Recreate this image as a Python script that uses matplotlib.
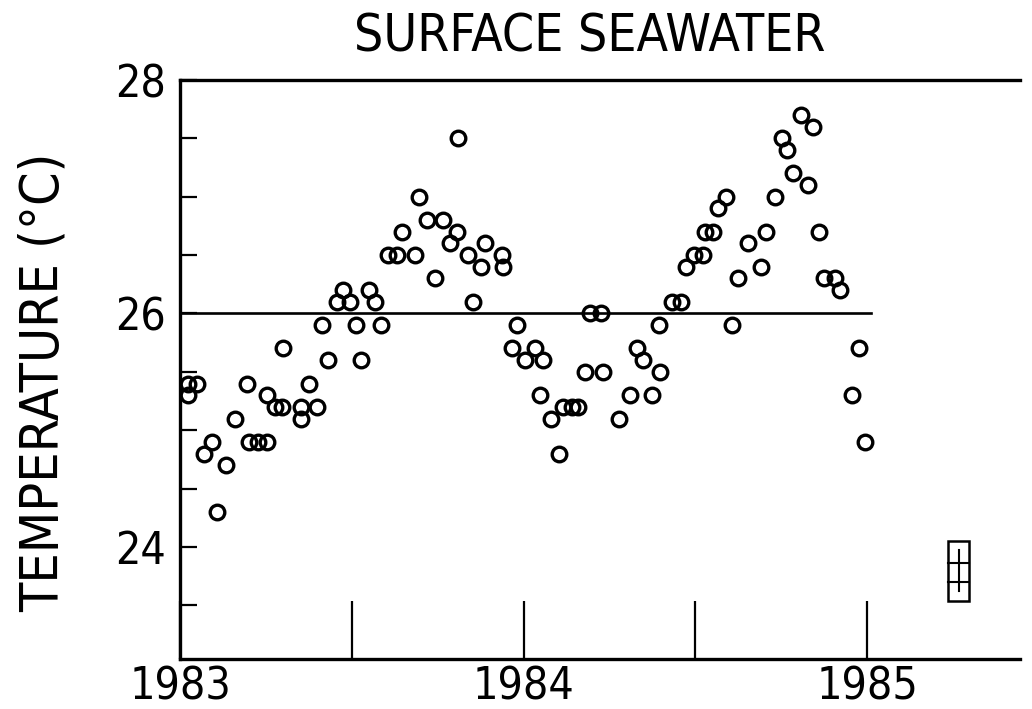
import matplotlib
matplotlib.use("Agg")
import matplotlib.pyplot as plt
from matplotlib.patches import Rectangle

# ---- data (decimal year, temperature in deg C) ----
years = [
    1983.023, 1983.023, 1983.050, 1983.070, 1983.093, 1983.108, 1983.134, 1983.160,
    1983.195, 1983.201, 1983.227, 1983.253, 1983.253, 1983.277, 1983.297, 1983.300,
    1983.352, 1983.352, 1983.376, 1983.399, 1983.413, 1983.431, 1983.457, 1983.475,
    1983.495, 1983.512, 1983.527, 1983.550, 1983.568, 1983.585, 1983.606, 1983.632,
    1983.646, 1983.684, 1983.696, 1983.719, 1983.742, 1983.766, 1983.786, 1983.806,
    1983.809, 1983.838, 1983.853, 1983.876, 1983.888, 1983.937, 1983.940, 1983.967,
    1983.981, 1984.004, 1984.034, 1984.048, 1984.057, 1984.080, 1984.103, 1984.115,
    1984.141, 1984.159, 1984.179, 1984.194, 1984.226, 1984.231, 1984.278, 1984.310,
    1984.330, 1984.348, 1984.374, 1984.395, 1984.397, 1984.432, 1984.459, 1984.473,
    1984.496, 1984.523, 1984.528, 1984.552, 1984.566, 1984.590, 1984.607, 1984.625,
    1984.654, 1984.691, 1984.706, 1984.732, 1984.753, 1984.767, 1984.785, 1984.808,
    1984.828, 1984.843, 1984.860, 1984.875, 1984.907, 1984.921, 1984.956, 1984.977,
    1984.994,
]
temps = [
    25.4, 25.3, 25.4, 24.8, 24.9, 24.3, 24.7, 25.1,
    25.4, 24.9, 24.9, 24.9, 25.3, 25.2, 25.2, 25.7,
    25.2, 25.1, 25.4, 25.2, 25.9, 25.6, 26.1, 26.2,
    26.1, 25.9, 25.6, 26.2, 26.1, 25.9, 26.5, 26.5,
    26.7, 26.5, 27.0, 26.8, 26.3, 26.8, 26.6, 26.7,
    27.5, 26.5, 26.1, 26.4, 26.6, 26.5, 26.4, 25.7,
    25.9, 25.6, 25.7, 25.3, 25.6, 25.1, 24.8, 25.2,
    25.2, 25.2, 25.5, 26.0, 26.0, 25.5, 25.1, 25.3,
    25.7, 25.6, 25.3, 25.9, 25.5, 26.1, 26.1, 26.4,
    26.5, 26.5, 26.7, 26.7, 26.9, 27.0, 25.9, 26.3,
    26.6, 26.4, 26.7, 27.0, 27.5, 27.4, 27.2, 27.7,
    27.1, 27.6, 26.7, 26.3, 26.3, 26.2, 25.3, 25.7,
    24.9,
]
mean_temp = 26.0
mean_span = [1983.0, 1985.01]

x_major = [1983, 1984, 1985]
x_labels = ["1983", "1984", "1985"]
x_minor = [1983.5, 1984.5]
y_major = [24, 26, 28]
y_labels = ["24", "26", "28"]
y_minor = [23.5, 24.5, 25, 25.5, 26.5, 27, 27.5]

title = "SURFACE SEAWATER"
ylabel = "TEMPERATURE (°C)"

plt.rcParams["font.family"] = ["DejaVu Sans"]
plt.rcParams["font.stretch"] = "condensed"

fig = plt.figure(figsize=(10.32, 7.09), dpi=100)
W, H = 1032, 709
L, R, T, B = 180, 1020, 80, 659
ax = fig.add_axes([L / W, 1 - B / H, (R - L) / W, (B - T) / H])

ax.plot(mean_span, [mean_temp, mean_temp], color="black", lw=1.9, zorder=2)
ax.plot(years, temps, linestyle="none", marker="o", markersize=10.5,
        markerfacecolor="none", markeredgecolor="black", markeredgewidth=2.4,
        zorder=3, clip_on=False)

# error-scale box
bx0, bx1 = 1985.236, 1985.297
by0, by1 = 23.54, 24.05
ax.add_patch(Rectangle((bx0, by0), bx1 - bx0, by1 - by0, fill=False,
                       edgecolor="black", lw=1.8))
bxc = (bx0 + bx1) / 2
ax.plot([bxc, bxc], [23.62, 23.97], color="black", lw=1.5)
ax.plot([bx0, bx1], [23.86, 23.86], color="black", lw=1.5)
ax.plot([bx0, bx1], [23.70, 23.70], color="black", lw=1.5)

ax.set_xlim(1983.0, 1985.445)
ax.set_ylim(23.04, 28.0)

ax.set_xticks(x_major)
ax.set_xticklabels(x_labels)
ax.set_xticks(x_minor, minor=True)
ax.set_yticks(y_major)
ax.set_yticklabels(y_labels)
ax.set_yticks(y_minor, minor=True)

ax.tick_params(axis="x", which="both", direction="in", length=42, width=1.6,
               pad=5, labelsize=32)
ax.tick_params(axis="y", which="both", direction="in", length=12, width=1.6,
               pad=10, labelsize=32)

for s in ["left", "bottom", "top"]:
    ax.spines[s].set_linewidth(2.4)
ax.spines["right"].set_visible(False)

fig.text(590 / W, 1 - 38 / H, title, ha="center", va="center", fontsize=37)
fig.text(44 / W, 1 - 382 / H, ylabel, ha="center", va="center",
         rotation=90, fontsize=38.5)

fig.savefig("out.png", dpi=100)
